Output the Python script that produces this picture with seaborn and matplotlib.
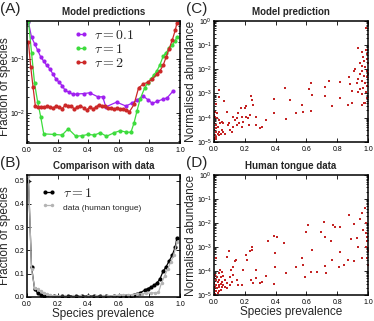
import numpy as np
import pandas as pd
import matplotlib
matplotlib.use("Agg")
import matplotlib.pyplot as plt
import seaborn as sns
from matplotlib.font_manager import FontProperties

# ---- (A) model predictions, fraction of species vs prevalence ----
x_tau01 = [0.01, 0.03, 0.05, 0.07, 0.09, 0.11, 0.13, 0.15, 0.17, 0.19, 0.21, 0.23, 0.25,
           0.275, 0.30, 0.33, 0.37, 0.41, 0.466, 0.495, 0.516, 0.586, 0.647, 0.684, 0.717,
           0.76, 0.793, 0.82, 0.85, 0.887, 0.917, 0.956]
y_tau01 = [0.47, 0.25, 0.19, 0.144, 0.108, 0.09, 0.075, 0.065, 0.052, 0.042, 0.037, 0.032, 0.026,
           0.024, 0.022, 0.0224, 0.0227, 0.0235, 0.0197, 0.0199, 0.0129, 0.0158, 0.0134, 0.015, 0.017,
           0.0205, 0.0173, 0.015, 0.0163, 0.0178, 0.019, 0.0255]

x_tau1 = [0.01, 0.03, 0.05, 0.07, 0.09, 0.11, 0.18, 0.23, 0.27, 0.32, 0.36, 0.40, 0.44, 0.48,
          0.52, 0.57, 0.61, 0.65, 0.68, 0.70, 0.72, 0.74, 0.77, 0.79, 0.81, 0.83, 0.85, 0.87,
          0.89, 0.91, 0.93, 0.95, 0.97, 0.98]
y_tau1 = [0.50, 0.13, 0.035, 0.016, 0.0085, 0.0041, 0.004, 0.0039, 0.0051, 0.0037, 0.0038, 0.004,
          0.0039, 0.0043, 0.0037, 0.0043, 0.0047, 0.0044, 0.0044, 0.0065, 0.011, 0.018, 0.029, 0.036,
          0.042, 0.05, 0.06, 0.078, 0.11, 0.13, 0.155, 0.18, 0.215, 0.255]

x_tau2 = [0.01, 0.025, 0.04, 0.055, 0.07, 0.09, 0.11, 0.13, 0.15, 0.17, 0.19, 0.21, 0.23, 0.25,
          0.27, 0.29, 0.31, 0.33, 0.35, 0.37, 0.39, 0.41, 0.43, 0.45, 0.47, 0.49, 0.51, 0.53,
          0.55, 0.57, 0.59, 0.61, 0.63, 0.65, 0.67, 0.70, 0.73, 0.76, 0.79, 0.82, 0.85, 0.87,
          0.89, 0.91, 0.93, 0.95, 0.97, 0.98]
y_tau2 = [0.20, 0.07, 0.03, 0.0135, 0.0128, 0.0131, 0.0126, 0.0133, 0.0128, 0.0124, 0.0133, 0.0129,
          0.012, 0.0138, 0.0133, 0.0136, 0.0117, 0.0129, 0.0136, 0.0124, 0.0112, 0.0128, 0.0119,
          0.0126, 0.0142, 0.0133, 0.0134, 0.0121, 0.0125, 0.0118, 0.0124, 0.0116, 0.0117, 0.0115,
          0.0105, 0.0143, 0.029, 0.034, 0.037, 0.042, 0.052, 0.06, 0.075, 0.107, 0.154, 0.22, 0.34, 0.45]

# ---- (B) comparison with human tongue data ----
x_data = [0.01, 0.03, 0.05, 0.07, 0.09, 0.11, 0.13, 0.15, 0.17, 0.19, 0.21, 0.25, 0.30, 0.35,
          0.40, 0.45, 0.50, 0.53, 0.57, 0.60, 0.63, 0.66, 0.69, 0.72, 0.75, 0.78, 0.81, 0.84,
          0.86, 0.88, 0.90, 0.92, 0.94, 0.96, 0.98]
y_data = [0.52, 0.12, 0.04, 0.032, 0.025, 0.018, 0.012, 0.008, 0.005, 0.004, 0.003, 0.002, 0.002,
          0.002, 0.002, 0.002, 0.003, 0.004, 0.006, 0.007, 0.008, 0.009, 0.01, 0.012, 0.014, 0.016,
          0.017, 0.018, 0.02, 0.06, 0.09, 0.12, 0.15, 0.18, 0.235]

# ---- (C) model prediction: prevalence vs normalised abundance ----
c_prev = [0.015, 0.036, 0.032, 0.009, 0.019, 0.03, 0.002, 0.015, 0.026, 0.041, 0.051, 0.002,
          0.013, 0.024, 0.036, 0.051, 0.004, 0.015, 0.03, 0.045, 0.062, 0.073, 0.002, 0.013,
          0.006, 0.002, 0.019, 0.011,
          0.066, 0.083, 0.056, 0.094, 0.105, 0.115, 0.10, 0.126, 0.137, 0.122, 0.147, 0.158,
          0.173, 0.18, 0.147, 0.165, 0.18, 0.19, 0.20, 0.21, 0.205, 0.222, 0.233, 0.239, 0.246,
          0.229, 0.254, 0.271, 0.276, 0.301, 0.312, 0.335, 0.393, 0.393, 0.464, 0.468, 0.496,
          0.532, 0.571, 0.581, 0.618, 0.628, 0.635, 0.628, 0.72, 0.724, 0.746, 0.767, 0.821,
          0.821, 0.87, 0.895, 0.959, 0.981, 0.874, 0.885, 0.895, 0.906, 0.917,
          0.985, 0.934, 0.959, 0.97, 0.976, 0.985, 0.991, 0.996, 0.949, 0.959, 0.981, 0.991,
          0.964, 0.949, 0.974, 0.991, 0.938, 0.959, 0.981, 0.996, 0.927, 0.949, 0.97, 0.985,
          0.959, 0.991, 0.976, 0.938, 0.998, 0.998]
c_abund = [3.8e-4, 1.4e-3, 7.1e-4, 1.1e-4, 9.5e-5, 8.1e-5, 5.9e-5, 5.0e-5, 4.3e-5, 5.9e-5,
           6.9e-5, 3.1e-5, 2.6e-5, 2.2e-5, 2.6e-5, 3.1e-5, 1.9e-5, 1.6e-5, 1.9e-5, 2.2e-5,
           2.6e-5, 2.2e-5, 1.4e-5, 1.3e-5, 1.8e-4, 1.3e-4, 1.5e-4, 3.6e-5,
           4.7e-4, 1.7e-4, 6.3e-5, 5.0e-5, 3.1e-5, 2.6e-5, 5.9e-5, 4.3e-5, 8.1e-5, 1.1e-4,
           9.5e-5, 1.5e-4, 2.5e-4, 1.1e-4, 5.0e-5, 5.9e-5, 4.3e-5, 6.9e-5, 2.5e-4, 3.0e-4,
           1.1e-4, 9.5e-5, 1.3e-4, 7.8e-4, 5.6e-4, 5.0e-5, 3.5e-4, 1.1e-4, 5.0e-5, 3.6e-5,
           4.3e-5, 8.1e-5, 6.0e-4, 1.5e-4, 1.7e-3, 8.9e-5, 5.6e-4, 1.5e-4, 3.5e-4, 1.8e-4,
           1.6e-3, 2.6e-3, 8.3e-4, 1.9e-4, 1.9e-3, 7.8e-4, 3.3e-3, 3.0e-4, 3.1e-3, 6.6e-4,
           3.2e-4, 4.1e-4, 3.2e-4, 4.1e-4, 4.6e-3, 2.4e-3, 1.3e-3, 8.7e-3, 1.0e-2,
           0.49, 7.6e-2, 5.1e-2, 3.2e-2, 2.3e-2, 6.0e-2, 4.4e-2, 2.7e-2, 1.9e-2, 1.4e-2,
           1.2e-2, 8.7e-3, 8.7e-3, 6.3e-3, 5.4e-3, 4.6e-3, 3.9e-3, 3.3e-3, 2.8e-3, 2.0e-3,
           2.8e-3, 1.5e-3, 1.7e-3, 1.1e-3, 9.1e-4, 6.6e-4, 4.1e-4, 1.1e-3, 1.9e-2, 6.3e-3]

# ---- (D) human tongue data ----
d_prev = [0.015, 0.041, 0.051, 0.03, 0.009, 0.019, 0.045, 0.062, 0.002, 0.013, 0.026, 0.036,
          0.051, 0.073, 0.002, 0.015, 0.03, 0.045, 0.062, 0.083, 0.006, 0.019, 0.036, 0.053,
          0.073, 0.002, 0.015, 0.03, 0.045, 0.009, 0.024, 0.088, 0.105, 0.115, 0.105, 0.109,
          0.088, 0.096, 0.122, 0.137, 0.143, 0.126, 0.147, 0.158, 0.18, 0.186, 0.207, 0.212,
          0.233, 0.244, 0.25, 0.239, 0.254, 0.271, 0.276, 0.301, 0.314, 0.34, 0.35, 0.387,
          0.393, 0.395, 0.395, 0.41, 0.457, 0.468, 0.532, 0.571, 0.581, 0.59, 0.596, 0.613,
          0.628, 0.639, 0.667, 0.692, 0.714, 0.72, 0.724, 0.729, 0.763, 0.767, 0.774, 0.788,
          0.81, 0.821, 0.821, 0.842, 0.87, 0.874, 0.891, 0.906, 0.912, 0.927, 0.938, 0.949,
          0.959, 0.964, 0.97, 0.981, 0.987, 0.991, 0.996, 0.987, 0.998, 0.991, 0.998, 0.987]
d_abund = [3.4e-4, 1.1e-4, 9.3e-5, 7.9e-5, 6.8e-5, 5.8e-5, 5.5e-5, 6.2e-5, 4.9e-5, 4.2e-5,
           3.6e-5, 4.2e-5, 3.6e-5, 4.2e-5, 3.1e-5, 2.6e-5, 2.6e-5, 2.9e-5, 2.6e-5, 3.1e-5,
           2.1e-5, 1.9e-5, 2.1e-5, 2.1e-5, 2.2e-5, 1.6e-5, 1.4e-5, 1.5e-5, 1.6e-5, 1.1e-5,
           1.2e-5, 1.9e-5, 2.6e-5, 3.6e-5, 5.8e-5, 1.1e-4, 3.7e-4, 6.6e-4, 1.5e-4, 2.5e-4,
           2.9e-4, 6.8e-5, 4.2e-5, 2.6e-5, 2.6e-5, 1.1e-4, 4.7e-4, 2.9e-4, 6.5e-4, 7.4e-4,
           9.8e-4, 4.2e-5, 3.1e-5, 4.9e-5, 1.1e-4, 3.1e-5, 3.6e-5, 6.2e-5, 1.8e-3, 2.9e-5,
           3.0e-3, 5.5e-4, 1.5e-4, 2.5e-3, 1.5e-3, 8.5e-5, 1.5e-4, 3.4e-4, 1.7e-4, 5.8e-5,
           4.4e-3, 8.3e-3, 8.7e-5, 7.4e-4, 9.3e-5, 4.1e-3, 1.1e-2, 1.6e-4, 2.7e-3, 7.9e-5,
           1.7e-3, 2.9e-4, 7.9e-3, 6.6e-3, 1.5e-4, 7.1e-3, 6.0e-4, 1.8e-4, 2.9e-4, 2.1e-2,
           2.1e-3, 2.7e-4, 9.1e-3, 2.3e-3, 1.0e-3, 1.5e-2, 3.4e-4, 2.7e-2, 5.1e-3, 4.1e-2,
           3.7e-3, 2.7e-3, 1.7e-3, 1.0e-3, 6.5e-4, 3.4e-4, 1.8e-4, 1.0e-2]

purple = "#a020f0"
green = "#3ddc3d"
red = "#cc2828"
dotred = "#c42424"
grey = "#b4b4b4"

sns.set_style("ticks")
plt.rcParams["font.family"] = ["Liberation Sans", "DejaVu Sans"]
plt.rcParams["mathtext.fontset"] = "custom"
plt.rcParams["mathtext.rm"] = "Liberation Sans"
plt.rcParams["mathtext.it"] = "Liberation Sans:italic"
plt.rcParams["mathtext.bf"] = "Liberation Sans:bold"
plt.rcParams["axes.linewidth"] = 1.1
plt.rcParams["axes.edgecolor"] = "black"

fig = plt.figure(figsize=(3.74, 3.21), dpi=100)
axA = fig.add_axes([0.072, 0.555, 0.409, 0.380])
axC = fig.add_axes([0.572, 0.558, 0.412, 0.377])
axB = fig.add_axes([0.072, 0.075, 0.409, 0.380])
axD = fig.add_axes([0.572, 0.081, 0.412, 0.374])


def style_ax(ax):
    ax.tick_params(which="both", direction="in", top=True, right=True, labelsize=5,
                   pad=1.5, width=0.6, colors="black")
    ax.tick_params(axis="x", which="major", pad=3.2)
    ax.tick_params(which="major", length=3)
    ax.tick_params(which="minor", length=1.5)
    ax.set_xlim(0, 1)
    ax.set_xticks([0, 0.2, 0.4, 0.6, 0.8, 1.0])
    ax.set_xticklabels(["0.0", "0.2", "0.4", "0.6", "0.8", "1.0"])


line_kw = dict(marker="o", markersize=3.0, markeredgewidth=0, linewidth=0.9, sort=False,
               estimator=None)

# (A)
sns.lineplot(x=x_tau01, y=y_tau01, ax=axA, color=purple, label=r"$\tau = 0.1$", **line_kw)
sns.lineplot(x=x_tau1, y=y_tau1, ax=axA, color=green, label=r"$\tau = 1$", **line_kw)
sns.lineplot(x=x_tau2, y=y_tau2, ax=axA, color=red, label=r"$\tau = 2$", **line_kw)
axA.set_yscale("log")
axA.set_ylim(0.0028, 0.5)
style_ax(axA)
axA.set_ylabel("Fraction of species", fontsize=8.5)
axA.yaxis.set_label_coords(-0.105, 0.46)
axA.set_title("Model predictions", fontsize=7, fontweight="bold", pad=4)
legA = axA.legend(loc="upper left", bbox_to_anchor=(0.24, 1.02), frameon=False, numpoints=2,
                  handlelength=1.1, handletextpad=0.4, labelspacing=0.0, borderpad=0.2,
                  prop=FontProperties(size=10, math_fontfamily="cm"))

# (B)
sns.lineplot(x=x_tau1, y=y_tau1, ax=axB, color="black", label=r"$\tau = 1$", **line_kw)
sns.lineplot(x=x_data, y=y_data, ax=axB, color=grey, label="data (human tongue)",
             marker="o", markersize=2.5, markeredgewidth=0, linewidth=0.9, sort=False,
             estimator=None)
axB.set_ylim(0, 0.525)
axB.set_yticks([0, 0.1, 0.2, 0.3, 0.4, 0.5])
axB.set_yticklabels(["0.0", "0.1", "0.2", "0.3", "0.4", "0.5"])
style_ax(axB)
axB.set_ylabel("Fraction of species", fontsize=8.5)
axB.yaxis.set_label_coords(-0.105, 0.5)
axB.set_xlabel("Species prevalence", fontsize=8.5, labelpad=0)
axB.set_title("Comparison with data", fontsize=7, fontweight="bold", pad=4)
legB = axB.legend(loc="upper left", bbox_to_anchor=(0.03, 0.99), frameon=False, numpoints=2,
                  handlelength=1.1, handletextpad=0.5, labelspacing=0.0, borderpad=0.2,
                  prop=FontProperties(size=10, math_fontfamily="cm"))
legB.get_texts()[1].set_fontsize(6)

# (C) and (D)
for ax, xs, ys, title in [(axC, c_prev, c_abund, "Model prediction"),
                          (axD, d_prev, d_abund, "Human tongue data")]:
    sns.scatterplot(x=xs, y=ys, ax=ax, color=dotred, s=4, marker="s", linewidth=0)
    ax.set_yscale("log")
    ax.set_ylim(1e-5, 1)
    ax.set_yticks([1e-5, 1e-4, 1e-3, 1e-2, 1e-1, 1e0])
    style_ax(ax)
    ax.set_ylabel("Normalised abundance", fontsize=8.5)
    ax.yaxis.set_label_coords(-0.11, 0.5)
    ax.set_title(title, fontsize=7, fontweight="bold", pad=4)
axD.set_xlabel("Species prevalence", fontsize=8.5, labelpad=0)

# panel letters
for label, xpos, ypos in [("(A)", 0.0, 0.995), ("(C)", 0.497, 0.995),
                          ("(B)", 0.0, 0.515), ("(D)", 0.497, 0.515)]:
    fig.text(xpos, ypos, label, fontsize=11, ha="left", va="top")

fig.savefig("out.png", dpi=100)
